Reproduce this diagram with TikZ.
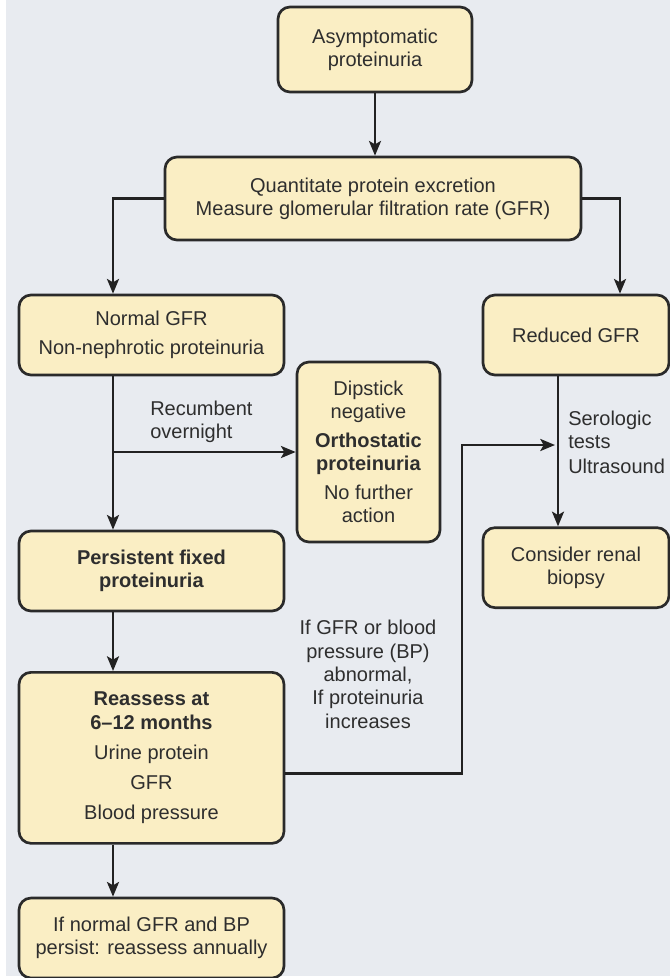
\documentclass[tikz,border=0pt]{standalone}
\usepackage{fontspec}
\setmainfont{Liberation Sans}
\usetikzlibrary{arrows.meta, positioning}
\definecolor{pagebg}{HTML}{E8EBF0}
\definecolor{boxbg}{HTML}{FAEEC4}
\definecolor{boxborder}{HTML}{2A2A2A}
\definecolor{textfg}{HTML}{2E2E2E}
\definecolor{arrowcol}{HTML}{222222}
\tikzset{
    flowbox/.style 2 args={rectangle, rounded corners=9pt, fill=boxbg, draw=boxborder, line width=2pt, minimum width=#1, minimum height=#2, align=center, inner sep=3pt, font=\fontsize{15}{17.5}\selectfont, text=textfg},
    notelabel/.style={inner sep=0pt, font=\fontsize{15}{17.5}\selectfont, text=textfg},
    flowarrow/.style={-{Stealth[length=11pt, width=9pt, inset=2.5pt]}, arrowcol, line width=1.9pt},
}
\begin{document}
\begin{tikzpicture}[x=0.75pt, y=-0.75pt]
\useasboundingbox (0,0) rectangle (670,978);
\fill[white] (0,0) rectangle (670,978);
\fill[pagebg] (6,0) rectangle (670,976);
\coordinate (lcol) at (113,0);
\coordinate (rcol) at (620,0);
\coordinate (scol) at (558,0);
\node[flowbox={145.5pt}{63.75pt}] (asym) at (375,49.5) {Asymptomatic\\proteinuria};
\node[flowbox={312pt}{62.25pt}] (quant) at (373,198.5)
    {Quantitate protein excretion\\Measure glomerular filtration rate (GFR)};
\draw[flowarrow] (asym.south) -- (asym.south |- quant.north);
\node[flowbox={198.75pt}{60pt}] (normal) at (151.5,335) {Normal GFR\\[4pt]Non-nephrotic proteinuria};
\node[flowbox={139.5pt}{60pt}] (reduced) at (576,335) {Reduced GFR};
\draw[flowarrow] (quant.west) -| (normal.north -| lcol);
\draw[flowarrow] (quant.east) -| (reduced.north -| rcol);
\node[flowbox={107.25pt}{135pt}] (dipstick) at (368.5,452)
    {Dipstick\\negative\\[4pt]\textbf{Orthostatic}\\\textbf{proteinuria}\\[4pt]No further\\action};
\node[flowbox={198.75pt}{60pt}, below=115pt of normal] (persistent) {\textbf{Persistent fixed}\\\textbf{proteinuria}};
\draw[flowarrow] (normal.south -| lcol) -- (persistent.north -| lcol);
\draw[flowarrow] (lcol |- dipstick.west) -- (dipstick.west);
\node[notelabel, anchor=west, align=left] (recumbent) at (150,421.5) {Recumbent\\overnight};
\node[flowbox={139.5pt}{60pt}, below=112.5pt of reduced] (biopsy) {Consider renal\\biopsy};
\draw[flowarrow] (reduced.south -| scol) -- (biopsy.north -| scol);
\node[notelabel, anchor=west, align=left] (serology) at (568,442) {Serologic\\tests\\[1pt]Ultrasound};
\node[flowbox={198.75pt}{128.25pt}, below=44pt of persistent] (reassess)
    {\textbf{Reassess at}\\\textbf{6–12 months}\\[5pt]Urine protein\\[5pt]GFR\\[5pt]Blood pressure};
\draw[flowarrow] (persistent.south -| lcol) -- (reassess.north -| lcol);
\node[flowbox={198.75pt}{60pt}, below=39pt of reassess] (annual) {If normal GFR and BP\\persist: reassess annually};
\draw[flowarrow] (reassess.south -| lcol) -- (annual.north -| lcol);
% feedback route to the reduced-GFR work-up
\coordinate (fbturn) at (462,445);
\coordinate (fbend) at (555,445);
\draw[flowarrow] ([yshift=-11.7pt]reassess.east) -| (fbturn) -- (fbend);
\node[notelabel, align=center] (fbnote) at (368,674.5)
    {If GFR or blood\\pressure (BP)\\abnormal,\\If proteinuria\\increases};
\end{tikzpicture}
\end{document}
